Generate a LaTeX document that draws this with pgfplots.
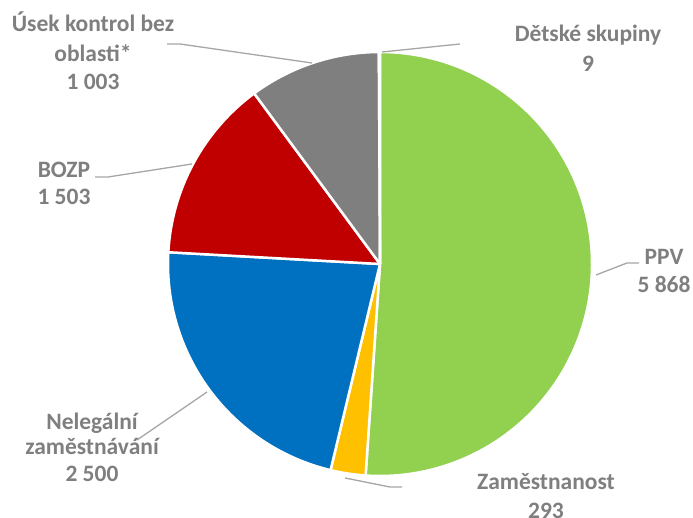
\documentclass[border=0pt]{standalone}
\usepackage{fontspec}
\setmainfont{Carlito}
\usepackage{pgfplots}
\usepackage{pgfplotstable}
\pgfplotsset{compat=1.18}
\definecolor{cPPV}{HTML}{92D050}
\definecolor{cZam}{HTML}{FFC000}
\definecolor{cNeleg}{HTML}{0070C0}
\definecolor{cBOZP}{HTML}{C00000}
\definecolor{cUsek}{HTML}{7F7F7F}
\definecolor{cDet}{HTML}{A5A5A5}
\definecolor{labgray}{HTML}{7F7F7F}
\definecolor{linegray}{HTML}{A6A6A6}

% slice sizes as drawn
\pgfplotstableread{
name value
PPV 5709
Zam 298
Neleg 2474
BOZP 1565
Usek 1121
Det 9
}\piedata

\newcommand\pieslice[2]{%
  \fill[#2, draw=white, line width=2.5pt, line join=round]
    (axis cs:380,254) -- +(\csname ps#1\endcsname:212pt)
    arc[start angle=\csname ps#1\endcsname, end angle=\csname pe#1\endcsname, radius=212pt] -- cycle;}

\begin{document}
\begin{tikzpicture}[lab/.style={font=\bfseries\fontsize{23.5}{28}\selectfont, text=labgray, anchor=base, inner sep=0pt}]
% total and cumulative angles, clockwise from the top
\xdef\total{0}%
\pgfplotstableforeachcolumnelement{value}\of\piedata\as\v{%
  \pgfmathsetmacro\t{\total+\v}\xdef\total{\t}}%
\xdef\cum{90}%
\pgfplotstableforeachcolumnelement{value}\of\piedata\as\v{%
  \expandafter\xdef\csname ps\pgfplotstablerow\endcsname{\cum}%
  \pgfmathsetmacro\t{\cum-\v/\total*360}%
  \xdef\cum{\t}%
  \expandafter\xdef\csname pe\pgfplotstablerow\endcsname{\cum}}%
\begin{axis}[
    width=693pt, height=518pt, scale only axis,
    xmin=0, xmax=693, ymin=0, ymax=518,
    hide axis, clip=false]
\pieslice{0}{cPPV}
\pieslice{1}{cZam}
\pieslice{2}{cNeleg}
\pieslice{3}{cBOZP}
\pieslice{4}{cUsek}
\pieslice{5}{cDet}

% leader lines
\draw[linegray, line width=1.3pt] (axis cs:167,474) -- (axis cs:180,474) -- (axis cs:312,455);
\draw[linegray, line width=1.3pt] (axis cs:382,466) -- (axis cs:460,474);
\draw[linegray, line width=1.3pt] (axis cs:596,243) -- (axis cs:627,255) -- (axis cs:639,255);
\draw[linegray, line width=1.3pt] (axis cs:95,341) -- (axis cs:108,341) -- (axis cs:192,354);
\draw[linegray, line width=1.3pt] (axis cs:207,126) -- (axis cs:137,78);
\draw[linegray, line width=1.3pt] (axis cs:345,40) -- (axis cs:390,31) -- (axis cs:402,31);

% labels
\node[lab] at (axis cs:93,486) {Úsek kontrol bez};
\node[lab] at (axis cs:93,456) {oblasti*};
\node[lab] at (axis cs:93,428) {1 003};
\node[lab] at (axis cs:588,476) {Dětské skupiny};
\node[lab] at (axis cs:588,446) {9};
\node[lab] at (axis cs:664,253) {PPV};
\node[lab] at (axis cs:664,225) {5 868};
\node[lab] at (axis cs:64,340) {BOZP};
\node[lab] at (axis cs:64,313) {1 503};
\node[lab] at (axis cs:92,88) {Nelegální};
\node[lab] at (axis cs:92,63) {zaměstnávání};
\node[lab] at (axis cs:92,36) {2 500};
\node[lab] at (axis cs:546,28) {Zaměstnanost};
\node[lab] at (axis cs:546,-1) {293};
\end{axis}
\pgfresetboundingbox
\path (0,0) rectangle (693pt,518pt);
\end{tikzpicture}
\end{document}
